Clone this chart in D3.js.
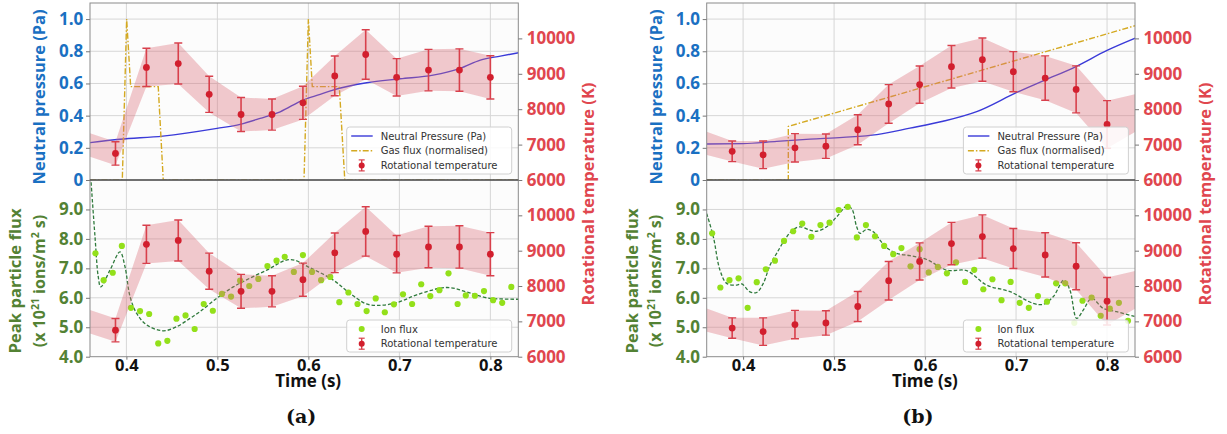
<!DOCTYPE html>
<html><head><meta charset="utf-8">
<script src="https://cdn.jsdelivr.net/npm/d3@7"></script>
<style>
body{margin:0;background:#fff;}
svg{display:block;}
</style></head><body>
<svg id="fig" width="1227" height="434"></svg>
<script>
// ---------- data ----------
// axis ticks
const timeTicks = [0.4, 0.5, 0.6, 0.7, 0.8];
const pressureTicks = [0, 0.2, 0.4, 0.6, 0.8, 1.0];
const pressureTickLabels = ["0", "0.2", "0.4", "0.6", "0.8", "1.0"];
const fluxTicks = [4, 5, 6, 7, 8, 9];
const fluxTickLabels = ["4.0", "5.0", "6.0", "7.0", "8.0", "9.0"];
const tempTicks = [6000, 7000, 8000, 9000, 10000];

// rotational temperature (K) with uncertainty, shot (a)
const tempTimesA = [0.354, 0.388, 0.422, 0.457, 0.491, 0.526, 0.560, 0.594, 0.629, 0.663, 0.697, 0.732, 0.766, 0.800];
const tempA    = [7040, 6750, 9180, 9290, 8420, 7850, 7850, 8180, 8940, 9545, 8900, 9105, 9105, 8900];
const tempErrA = [330, 330, 540, 580, 510, 480, 440, 468, 562, 700, 528, 586, 600, 610];

// rotational temperature (K) with uncertainty, shot (b)
const tempTimesB = [0.354, 0.388, 0.422, 0.457, 0.491, 0.526, 0.560, 0.594, 0.629, 0.663, 0.697, 0.732, 0.766, 0.800, 0.836];
const tempB    = [7085, 6810, 6710, 6910, 6955, 7420, 8150, 8695, 9200, 9400, 9060, 8880, 8560, 7570, 7945];
const tempErrB = [338, 290, 390, 400, 345, 425, 545, 525, 600, 612, 566, 626, 664, 672, 512];

// neutral pressure (Pa)
const pressTimesA = [0.36, 0.393, 0.440, 0.4996, 0.525, 0.547, 0.569, 0.594, 0.613, 0.627, 0.664, 0.701, 0.737, 0.767, 0.789, 0.811, 0.831];
const pressA      = [0.232, 0.253, 0.273, 0.321, 0.346, 0.383, 0.424, 0.497, 0.532, 0.559, 0.604, 0.629, 0.652, 0.694, 0.745, 0.770, 0.791];
const pressTimesB = [0.36, 0.40, 0.437, 0.4735, 0.5098, 0.547, 0.5834, 0.6197, 0.6567, 0.7007, 0.7318, 0.7647, 0.80, 0.831];
const pressB      = [0.224, 0.226, 0.240, 0.254, 0.265, 0.282, 0.322, 0.365, 0.425, 0.544, 0.621, 0.702, 0.805, 0.881];

// gas flux (normalised)
const gasTimesA = [0.36, 0.3955, 0.4003, 0.4047, 0.435, 0.4405, 0.5952, 0.600, 0.6043, 0.634, 0.640, 0.84];
const gasA      = [0, 0, 1.0, 0.58, 0.58, 0, 0, 1.0, 0.58, 0.58, 0, 0];
const gasTimesB = [0.36, 0.4497, 0.4497, 0.84];
const gasB      = [0, 0, 0.333, 0.974];

// ion flux (x 10^21 ions/m^2 s)
const ionTimes = [0.366, 0.375, 0.385, 0.395, 0.405, 0.415, 0.425, 0.435, 0.445, 0.455, 0.465, 0.475,
                  0.485, 0.495, 0.505, 0.515, 0.525, 0.535, 0.545, 0.555, 0.565, 0.574, 0.584, 0.594,
                  0.604, 0.614, 0.624, 0.634, 0.644, 0.654, 0.664, 0.674, 0.684, 0.694, 0.704, 0.714,
                  0.724, 0.734, 0.744, 0.754, 0.764, 0.773, 0.783, 0.793, 0.803, 0.813, 0.823];
const ionA = [7.51, 6.60, 6.85, 7.76, 5.66, 5.55, 5.45, 4.45, 4.54, 5.29, 5.40, 4.94,
              5.79, 5.56, 6.13, 6.04, 6.58, 6.40, 6.64, 7.08, 7.26, 7.39, 6.88, 7.45,
              6.88, 6.60, 6.71, 5.85, 6.18, 5.79, 5.55, 5.98, 5.51, 5.78, 6.12, 5.79,
              6.46, 6.06, 6.26, 6.83, 5.79, 6.08, 6.07, 6.23, 5.92, 5.83, 6.37];
const ionB = [8.19, 6.35, 6.60, 6.66, 5.66, 6.53, 6.97, 7.26, 7.93, 8.26, 8.52, 8.07,
              8.47, 8.55, 8.98, 9.09, 8.05, 8.47, 8.09, 7.76, 7.48, 7.69, 7.07, 7.65,
              6.86, 7.05, 6.83, 7.20, 6.54, 6.95, 6.29, 6.63, 5.92, 6.54, 5.83, 5.66,
              6.06, 5.87, 6.49, 6.49, 5.15, 5.90, 6.01, 5.39, 5.63, 5.83, 5.22];

// smoothed ion-flux trend
const fitTimesA = [0.3608, 0.3655, 0.3691, 0.3718, 0.382, 0.393, 0.3985, 0.404, 0.4113, 0.4223, 0.4405, 0.4553,
                   0.4699, 0.4809, 0.4992, 0.5175, 0.5542, 0.5798, 0.6018, 0.6274, 0.6457, 0.664, 0.6823,
                   0.7007, 0.719, 0.752, 0.7738, 0.796, 0.831];
const fitA      = [10.1, 8.07, 6.71, 6.37, 6.94, 7.56, 7.05, 6.04, 5.47, 5.08, 4.88, 5.02,
                   5.30, 5.53, 5.98, 6.37, 6.94, 7.30, 7.02, 6.60, 6.15, 5.79, 5.75,
                   5.87, 6.10, 6.35, 6.20, 6.00, 5.95];
const fitTimesB = [0.36, 0.3673, 0.3746, 0.382, 0.393, 0.3985, 0.4076, 0.4149, 0.4222, 0.4296, 0.4369, 0.4479,
                   0.4552, 0.4625, 0.4735, 0.4809, 0.4919, 0.5029, 0.5138, 0.5193, 0.5248, 0.5285, 0.5358,
                   0.5431, 0.5504, 0.5578, 0.5688, 0.5834, 0.6018, 0.6237, 0.6457, 0.6677, 0.6933, 0.7189,
                   0.7299, 0.7409, 0.7526, 0.7592, 0.7666, 0.7738, 0.7831, 0.7958, 0.8105, 0.831];
const fitB      = [8.86, 8.07, 6.94, 6.49, 6.43, 6.47, 6.20, 6.18, 6.49, 7.11, 7.51, 8.07,
                   8.32, 8.41, 8.30, 8.26, 8.41, 8.75, 9.11, 9.03, 8.41, 8.19, 8.32,
                   8.24, 7.96, 7.70, 7.51, 7.43, 7.30, 6.94, 6.92, 6.43, 6.21, 5.81,
                   5.78, 6.04, 6.60, 6.26, 5.30, 5.58, 5.98, 5.64, 5.53, 5.36];

// ---------- styling ----------
const COL = {
  blue: "#1a70c2", red: "#e0464e", green: "#538234",
  pressure: "#3a3ad8", gas: "#d4a921", temp: "#d21f2e", tempBar: "#d8404c",
  band: "#dc6b78", ion: "#93e01a", fit: "#2f7a3c", grid: "#d6d6d6", frame: "#8a8a8a"
};
const AXIS_FONT = "'Open Sans', 'Noto Sans', sans-serif";
const LEG_FONT = "'DejaVu Sans', sans-serif";

const svg = d3.select("#fig");

function fitText(sel, len) {
  const w = sel.node().getComputedTextLength();
  const fs = parseFloat(sel.attr("font-size"));
  sel.attr("font-size", (fs * len / w).toFixed(2));
}

function styleAxis(g, color, size) {
  g.select(".domain").remove();
  g.selectAll(".tick line").attr("stroke", "#777");
  g.selectAll(".tick text")
    .attr("fill", color).attr("font-family", AXIS_FONT)
    .attr("font-weight", 700).attr("font-size", size);
}

function drawPanel(cfg) {
  const L = 90, R = 518.3, T1 = 3, B1 = 180, B2 = 356.7;
  const g = svg.append("g").attr("transform", `translate(${cfg.ox},0)`);

  const x = d3.scaleLinear().domain([0.36, 0.8307]).range([L, R]);
  const yP = d3.scaleLinear().domain([0, 1.1]).range([B1, T1]);
  const yTt = d3.scaleLinear().domain([6000, 11000]).range([B1, T1]);
  const yF = d3.scaleLinear().domain([4, 10]).range([B2, B1]);
  const yTb = d3.scaleLinear().domain([6000, 11000]).range([B2, B1]);

  const defs = g.append("defs");
  defs.append("clipPath").attr("id", `clipTop${cfg.id}`)
    .append("rect").attr("x", L).attr("y", T1).attr("width", R - L).attr("height", B1 - T1);
  defs.append("clipPath").attr("id", `clipBot${cfg.id}`)
    .append("rect").attr("x", L).attr("y", B1).attr("width", R - L).attr("height", B2 - B1);

  // backgrounds
  g.append("rect").attr("x", L).attr("y", T1).attr("width", R - L).attr("height", B2 - T1).attr("fill", "#fcfcfc");

  const top = g.append("g").attr("clip-path", `url(#clipTop${cfg.id})`);
  const bot = g.append("g").attr("clip-path", `url(#clipBot${cfg.id})`);

  // grids
  top.selectAll("line.vg").data(timeTicks).join("line")
    .attr("x1", d => x(d)).attr("x2", d => x(d)).attr("y1", T1).attr("y2", B1)
    .attr("stroke", COL.grid).attr("stroke-width", 1);
  top.selectAll("line.hg").data(pressureTicks.slice(1)).join("line")
    .attr("x1", L).attr("x2", R).attr("y1", d => yP(d)).attr("y2", d => yP(d))
    .attr("stroke", COL.grid).attr("stroke-width", 1);
  bot.selectAll("line.vg").data(timeTicks).join("line")
    .attr("x1", d => x(d)).attr("x2", d => x(d)).attr("y1", B1).attr("y2", B2)
    .attr("stroke", COL.grid).attr("stroke-width", 1);
  bot.selectAll("line.hg").data(fluxTicks.slice(1)).join("line")
    .attr("x1", L).attr("x2", R).attr("y1", d => yF(d)).attr("y2", d => yF(d))
    .attr("stroke", COL.grid).attr("stroke-width", 1);

  // top: neutral pressure + gas flux
  const pIdx = d3.range(cfg.pT.length);
  top.append("path").datum(pIdx)
    .attr("d", d3.line().x(i => x(cfg.pT[i])).y(i => yP(cfg.p[i])).curve(d3.curveMonotoneX))
    .attr("fill", "none").attr("stroke", COL.pressure).attr("stroke-width", 1.4);
  const gIdx = d3.range(cfg.gT.length);
  top.append("path").datum(gIdx)
    .attr("d", d3.line().x(i => x(cfg.gT[i])).y(i => yP(cfg.g[i])))
    .attr("fill", "none").attr("stroke", COL.gas).attr("stroke-width", 1.4)
    .attr("stroke-dasharray", "6,2,1.5,2");

  // bottom: ion flux trend + points
  const fIdx = d3.range(cfg.fT.length);
  bot.append("path").datum(fIdx)
    .attr("d", d3.line().x(i => x(cfg.fT[i])).y(i => yF(cfg.f[i])).curve(d3.curveCatmullRom.alpha(0.5)))
    .attr("fill", "none").attr("stroke", COL.fit).attr("stroke-width", 1.3)
    .attr("stroke-dasharray", "3.5,2");
  bot.selectAll("circle.ion").data(d3.range(ionTimes.length)).join("circle")
    .attr("cx", i => x(ionTimes[i])).attr("cy", i => yF(cfg.ion[i])).attr("r", 3.1)
    .attr("fill", COL.ion);

  // rotational temperature band + error bars on both
  function tempLayer(layer, y) {
    const idx = d3.range(cfg.tT.length);
    layer.append("path").datum(idx)
      .attr("d", d3.area().x(i => x(cfg.tT[i]))
        .y0(i => y(cfg.T[i] - cfg.E[i])).y1(i => y(cfg.T[i] + cfg.E[i])))
      .attr("fill", COL.band).attr("fill-opacity", 0.36);
    const eb = layer.append("g").selectAll("g").data(idx).join("g");
    eb.append("line")
      .attr("x1", i => x(cfg.tT[i])).attr("x2", i => x(cfg.tT[i]))
      .attr("y1", i => y(cfg.T[i] - cfg.E[i])).attr("y2", i => y(cfg.T[i] + cfg.E[i]))
      .attr("stroke", COL.tempBar).attr("stroke-width", 1.6);
    [-1, 1].forEach(s => {
      eb.append("line")
        .attr("x1", i => x(cfg.tT[i]) - 4).attr("x2", i => x(cfg.tT[i]) + 4)
        .attr("y1", i => y(cfg.T[i] + s * cfg.E[i])).attr("y2", i => y(cfg.T[i] + s * cfg.E[i]))
        .attr("stroke", COL.tempBar).attr("stroke-width", 1.4);
    });
    eb.append("circle").attr("cx", i => x(cfg.tT[i])).attr("cy", i => y(cfg.T[i]))
      .attr("r", 3.4).attr("fill", COL.temp);
  }
  tempLayer(top, yTt);
  tempLayer(bot, yTb);

  // frames
  g.append("rect").attr("x", L).attr("y", T1).attr("width", R - L).attr("height", B1 - T1)
    .attr("fill", "none").attr("stroke", COL.frame).attr("stroke-width", 1);
  g.append("rect").attr("x", L).attr("y", B1).attr("width", R - L).attr("height", B2 - B1)
    .attr("fill", "none").attr("stroke", COL.frame).attr("stroke-width", 1);
  g.append("line").attr("x1", L).attr("x2", R).attr("y1", B1).attr("y2", B1)
    .attr("stroke", "#3a3a3a").attr("stroke-width", 1.2);

  // axes
  const axP = g.append("g").attr("transform", `translate(${L},0)`)
    .call(d3.axisLeft(yP).tickValues(pressureTicks).tickFormat((d, i) => pressureTickLabels[i]).tickSize(4).tickPadding(2.7));
  styleAxis(axP, COL.blue, 17);
  const axF = g.append("g").attr("transform", `translate(${L},0)`)
    .call(d3.axisLeft(yF).tickValues(fluxTicks).tickFormat((d, i) => fluxTickLabels[i]).tickSize(4).tickPadding(2.7));
  styleAxis(axF, COL.green, 17);
  const axTt = g.append("g").attr("transform", `translate(${R},0)`)
    .call(d3.axisRight(yTt).tickValues(tempTicks).tickFormat(d3.format("d")).tickSize(4).tickPadding(4.4));
  styleAxis(axTt, COL.red, 17);
  const axTb = g.append("g").attr("transform", `translate(${R},0)`)
    .call(d3.axisRight(yTb).tickValues(tempTicks).tickFormat(d3.format("d")).tickSize(4).tickPadding(4.4));
  styleAxis(axTb, COL.red, 17);
  const axX = g.append("g").attr("transform", `translate(0,${B2})`)
    .call(d3.axisBottom(x).tickValues(timeTicks).tickFormat(d3.format(".1f")).tickSize(3).tickPadding(0));
  styleAxis(axX, "#111", 16.5);

  // axis titles
  const tP = g.append("text").attr("transform", "translate(45,97) rotate(-90)")
    .attr("text-anchor", "middle").attr("font-family", AXIS_FONT).attr("font-weight", 700)
    .attr("font-size", 16).attr("fill", COL.blue).text("Neutral pressure (Pa)");
  fitText(tP, 175);
  const tF1 = g.append("text").attr("transform", "translate(21,281) rotate(-90)")
    .attr("text-anchor", "middle").attr("font-family", AXIS_FONT).attr("font-weight", 700)
    .attr("font-size", 16).attr("fill", COL.green).text("Peak particle flux");
  fitText(tF1, 145);
  const tF2 = g.append("text").attr("transform", "translate(44.5,281) rotate(-90)")
    .attr("text-anchor", "middle").attr("font-family", AXIS_FONT).attr("font-weight", 700)
    .attr("font-size", 16).attr("fill", COL.green);
  tF2.append("tspan").text("(x 10");
  tF2.append("tspan").attr("font-size", 10.5).attr("dy", -6).text("21");
  tF2.append("tspan").attr("dy", 6).text(" ions/m");
  tF2.append("tspan").attr("font-size", 10.5).attr("dy", -6).text("2");
  tF2.append("tspan").attr("dy", 6).text(" s)");
  const tT = g.append("text").attr("transform", "translate(594,194) rotate(-90)")
    .attr("text-anchor", "middle").attr("font-family", AXIS_FONT).attr("font-weight", 700)
    .attr("font-size", 16).attr("fill", COL.red).text("Rotational temperature (K)");
  fitText(tT, 223);
  const tX = g.append("text").attr("x", (L + R) / 2 + 4).attr("y", 387)
    .attr("text-anchor", "middle").attr("font-family", AXIS_FONT).attr("font-weight", 700)
    .attr("font-size", 17).attr("fill", "#111").text("Time (s)");
  fitText(tX, 66);

  g.append("text").attr("x", (L + R) / 2 - 3).attr("y", 423)
    .attr("text-anchor", "middle").attr("font-family", "'DejaVu Serif', serif").attr("font-weight", 700)
    .attr("font-size", 19).attr("fill", "#111").text(cfg.caption);

  // legends
  function legend(y0, h, items) {
    const lx = R - 171.6, lw = 165;
    const lg = g.append("g");
    lg.append("rect").attr("x", lx).attr("y", y0).attr("width", lw).attr("height", h)
      .attr("rx", 3).attr("fill", "#fff").attr("fill-opacity", 0.85)
      .attr("stroke", "#d0d0d0").attr("stroke-width", 1);
    items.forEach((it, k) => {
      const cy = y0 + 9 + k * 14.7;
      const sx = lx + 15;
      if (it.kind === "line") {
        lg.append("line").attr("x1", lx + 4.5).attr("x2", lx + 26).attr("y1", cy).attr("y2", cy)
          .attr("stroke", it.color).attr("stroke-width", 1.4).attr("stroke-dasharray", it.dash || null);
      } else if (it.kind === "dot") {
        lg.append("circle").attr("cx", sx).attr("cy", cy).attr("r", 3).attr("fill", it.color);
      } else {
        lg.append("line").attr("x1", sx).attr("x2", sx).attr("y1", cy - 5.5).attr("y2", cy + 5.5)
          .attr("stroke", COL.tempBar).attr("stroke-width", 1.4);
        [-5.5, 5.5].forEach(o => lg.append("line").attr("x1", sx - 3).attr("x2", sx + 3)
          .attr("y1", cy + o).attr("y2", cy + o).attr("stroke", COL.tempBar).attr("stroke-width", 1.2));
        lg.append("circle").attr("cx", sx).attr("cy", cy).attr("r", 3).attr("fill", COL.temp);
      }
      lg.append("text").attr("x", lx + 34).attr("y", cy + 3.6)
        .attr("font-family", LEG_FONT).attr("font-size", 10).attr("fill", "#333").text(it.label);
    });
  }
  legend(127, 47, [
    { kind: "line", color: COL.pressure, label: "Neutral Pressure (Pa)" },
    { kind: "line", color: COL.gas, dash: "6,2,1.5,2", label: "Gas flux (normalised)" },
    { kind: "err", label: "Rotational temperature" }
  ]);
  legend(320, 32, [
    { kind: "dot", color: COL.ion, label: "Ion flux" },
    { kind: "err", label: "Rotational temperature" }
  ]);
}

drawPanel({ id: "a", ox: 0, caption: "(a)",
  tT: tempTimesA, T: tempA, E: tempErrA, pT: pressTimesA, p: pressA,
  gT: gasTimesA, g: gasA, fT: fitTimesA, f: fitA, ion: ionA });
drawPanel({ id: "b", ox: 616.7, caption: "(b)",
  tT: tempTimesB, T: tempB, E: tempErrB, pT: pressTimesB, p: pressB,
  gT: gasTimesB, g: gasB, fT: fitTimesB, f: fitB, ion: ionB });
</script>
</body></html>
